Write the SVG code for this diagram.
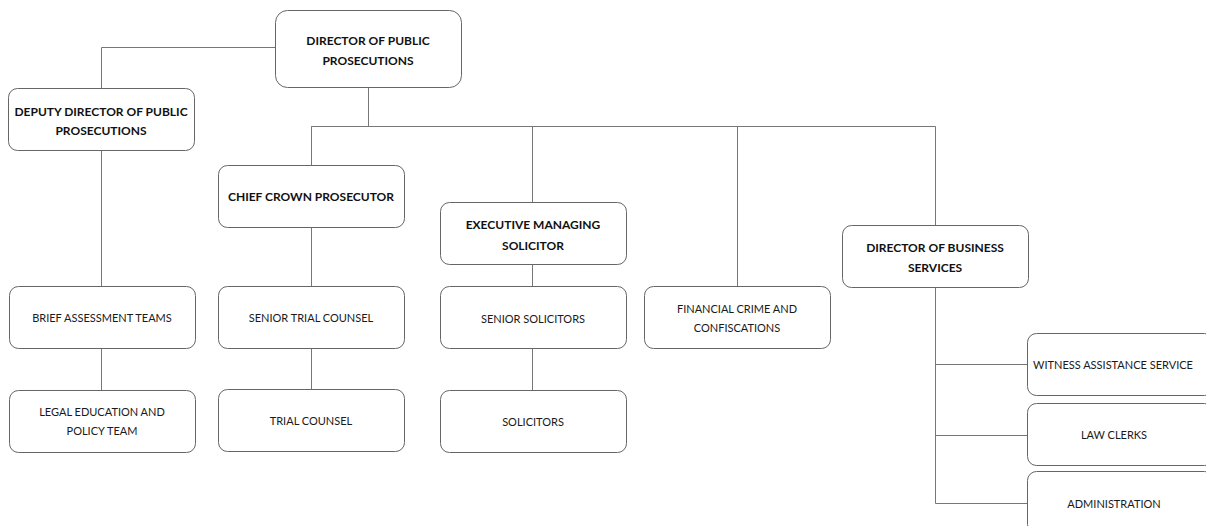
<svg xmlns="http://www.w3.org/2000/svg" width="1206" height="526" viewBox="0 0 1206 526">
<style>
.box{fill:#fff;stroke:#666;stroke-width:1}
.ln{fill:none;stroke:#777;stroke-width:1}
.b{font-family:Lato,"Open Sans",sans-serif;font-weight:bold;font-size:12px;fill:#111;text-anchor:middle}
.r{font-family:Lato,"Open Sans",sans-serif;font-size:11px;fill:#1a1a1a;text-anchor:middle}
</style>
<rect width="1206" height="526" fill="#fff"/>
<g id="connectors">
<path class="ln" d="M275.5 47.5H101.5V88"/>
<path class="ln" d="M368.5 87V126.5H311.5V165M311.5 126.5H935.5V225M532.5 126.5V202M737.5 126.5V286"/>
<path class="ln" d="M101.5 150V286M101.5 349V390"/>
<path class="ln" d="M311.5 227V286M311.5 349V389"/>
<path class="ln" d="M532.5 265V286M532.5 349V390"/>
<path class="ln" d="M935.5 288V503.5H1027M935.5 364.5H1027M935.5 435.5H1027"/>
</g>
<g id="dpp"><rect class="box" x="275.5" y="10.5" width="186" height="77" rx="12"/><text class="b" x="368" y="45">DIRECTOR OF PUBLIC</text><text class="b" x="368" y="65">PROSECUTIONS</text></g>
<g id="deputy"><rect class="box" x="8.5" y="88.5" width="186" height="62" rx="9"/><text class="b" x="101" y="116">DEPUTY DIRECTOR OF PUBLIC</text><text class="b" x="101" y="135">PROSECUTIONS</text></g>
<g id="ccp"><rect class="box" x="218.5" y="165.5" width="186" height="62" rx="9"/><text class="b" x="311" y="201">CHIEF CROWN PROSECUTOR</text></g>
<g id="ems"><rect class="box" x="440.5" y="202.5" width="186" height="62" rx="9"/><text class="b" x="533" y="229">EXECUTIVE MANAGING</text><text class="b" x="533" y="250">SOLICITOR</text></g>
<g id="dbs"><rect class="box" x="842.5" y="225.5" width="186" height="62" rx="9"/><text class="b" x="935" y="252">DIRECTOR OF BUSINESS</text><text class="b" x="935" y="272">SERVICES</text></g>
<g id="bat"><rect class="box" x="9.5" y="286.5" width="186" height="62" rx="9"/><text class="r" x="102" y="322">BRIEF ASSESSMENT TEAMS</text></g>
<g id="lept"><rect class="box" x="9.5" y="390.5" width="186" height="62" rx="9"/><text class="r" x="102" y="416">LEGAL EDUCATION AND</text><text class="r" x="102" y="435">POLICY TEAM</text></g>
<g id="stc"><rect class="box" x="218.5" y="286.5" width="186" height="62" rx="9"/><text class="r" x="311" y="322">SENIOR TRIAL COUNSEL</text></g>
<g id="tc"><rect class="box" x="218.5" y="389.5" width="186" height="62" rx="9"/><text class="r" x="311" y="425">TRIAL COUNSEL</text></g>
<g id="ss"><rect class="box" x="440.5" y="286.5" width="186" height="62" rx="9"/><text class="r" x="533" y="323">SENIOR SOLICITORS</text></g>
<g id="sol"><rect class="box" x="440.5" y="390.5" width="186" height="62" rx="9"/><text class="r" x="533" y="426">SOLICITORS</text></g>
<g id="fcc"><rect class="box" x="644.5" y="286.5" width="186" height="62" rx="9"/><text class="r" x="737" y="313">FINANCIAL CRIME AND</text><text class="r" x="737" y="332">CONFISCATIONS</text></g>
<g id="was"><rect class="box" x="1027.5" y="333.5" width="186" height="62" rx="9"/><text class="r" x="1113" y="369">WITNESS ASSISTANCE SERVICE</text></g>
<g id="lc"><rect class="box" x="1027.5" y="403.5" width="186" height="62" rx="9"/><text class="r" x="1114" y="439">LAW CLERKS</text></g>
<g id="adm"><rect class="box" x="1027.5" y="471.5" width="186" height="62" rx="9"/><text class="r" x="1114" y="508">ADMINISTRATION</text></g>
</svg>
